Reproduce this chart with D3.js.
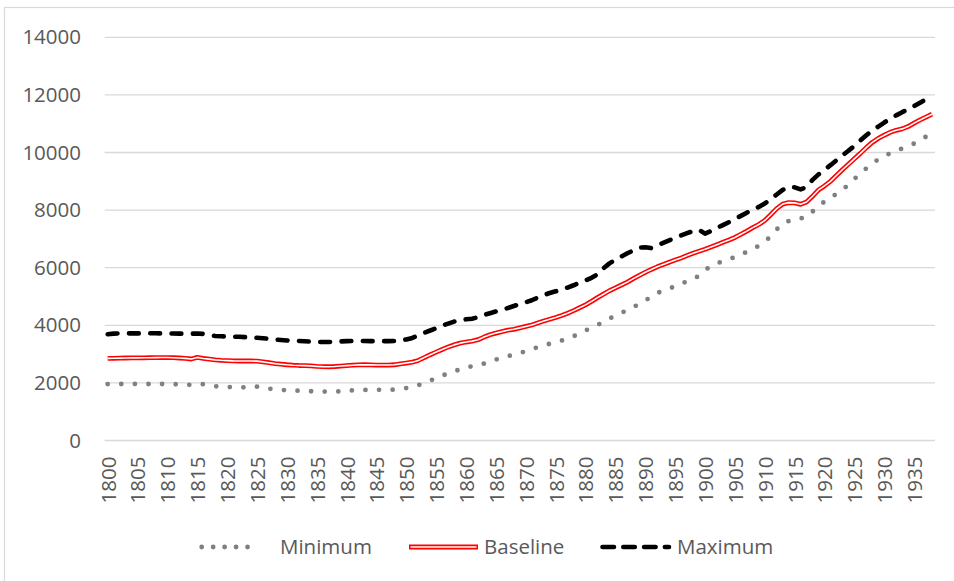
<!DOCTYPE html>
<html>
<head>
<meta charset="utf-8">
<script src="https://cdn.jsdelivr.net/npm/d3@7"></script>
<style>
  html, body { margin: 0; padding: 0; background: #fff; }
  svg { display: block; }
  text { font-family: "Open Sans", Lato, sans-serif; fill: #595959; }
</style>
</head>
<body>
<svg id="chart" width="954" height="581"></svg>
<script>
// Years 1800–1938, one value per year
const years = d3.range(1800, 1939);

const minimum = [
  1960, 1960, 1962, 1962, 1963, 1963, 1962, 1962, 1962, 1962,
  1960, 1955, 1950, 1940, 1930, 1960, 1955, 1920, 1885, 1870,
  1860, 1850, 1848, 1848, 1860, 1870, 1845, 1800, 1780, 1760,
  1745, 1735, 1730, 1720, 1710, 1705, 1700, 1695, 1700, 1708,
  1720, 1740, 1748, 1755, 1758, 1760, 1762, 1760, 1765, 1790,
  1820, 1860, 1920, 2000, 2080, 2170, 2250, 2330, 2400, 2470,
  2530, 2580, 2620, 2670, 2740, 2810, 2870, 2930, 2980, 3040,
  3100, 3170, 3240, 3300, 3360, 3420, 3470, 3540, 3620, 3710,
  3820, 3920, 4010, 4120, 4230, 4340, 4430, 4530, 4630, 4740,
  4860, 4990, 5120, 5200, 5270, 5360, 5450, 5520, 5600, 5720,
  5920, 6050, 6150, 6220, 6290, 6370, 6460, 6550, 6640, 6760,
  6890, 7100, 7330, 7530, 7620, 7670, 7710, 7760, 7950, 8120,
  8300, 8430, 8560, 8700, 8880, 9080, 9280, 9450, 9620, 9760,
  9880, 9970, 10060, 10140, 10220, 10310, 10430, 10550, 10660
];

const baseline = [
  2850, 2855, 2860, 2865, 2868, 2870, 2872, 2875, 2878, 2880,
  2880, 2875, 2865, 2850, 2830, 2885, 2850, 2825, 2800, 2785,
  2775, 2765, 2760, 2760, 2760, 2755, 2730, 2700, 2670, 2650,
  2630, 2615, 2605, 2600, 2590, 2575, 2565, 2560, 2570, 2585,
  2600, 2615, 2625, 2630, 2625, 2620, 2620, 2620, 2630, 2660,
  2690, 2720, 2780, 2880, 2980, 3070, 3160, 3250, 3320, 3380,
  3420, 3450, 3500, 3590, 3670, 3730, 3780, 3830, 3860, 3910,
  3960, 4010, 4080, 4150, 4210, 4270, 4340, 4420, 4510, 4610,
  4710, 4830, 4960, 5080, 5200, 5300, 5400, 5500, 5620, 5730,
  5840, 5940, 6030, 6110, 6190, 6270, 6340, 6420, 6500, 6570,
  6640, 6720, 6800, 6880, 6960, 7050, 7160, 7270, 7390, 7500,
  7640, 7840, 8050, 8210, 8260, 8250, 8200, 8280, 8480, 8700,
  8840, 9000, 9200, 9400, 9590, 9780, 9970, 10170, 10350, 10490,
  10600, 10700, 10770, 10820, 10900, 11020, 11130, 11230, 11330
];

const maximum = [
  3690, 3710, 3720, 3720, 3720, 3720, 3725, 3725, 3725, 3720,
  3720, 3715, 3710, 3710, 3710, 3715, 3700, 3660, 3630, 3620,
  3610, 3605, 3600, 3590, 3580, 3565, 3550, 3530, 3505, 3490,
  3475, 3465, 3455, 3445, 3435, 3425, 3420, 3420, 3430, 3440,
  3450, 3455, 3455, 3455, 3450, 3450, 3450, 3450, 3455, 3470,
  3510, 3560, 3650, 3740, 3820, 3900, 3990, 4060, 4130, 4180,
  4210, 4230, 4280, 4360, 4420, 4480, 4540, 4600, 4670, 4740,
  4800, 4870, 4960, 5050, 5120, 5180, 5240, 5310, 5390, 5480,
  5560, 5650, 5770, 5980, 6150, 6280, 6390, 6500, 6600, 6700,
  6710, 6680, 6770, 6860, 6950, 7040, 7120, 7200, 7270, 7320,
  7180, 7270, 7380, 7480, 7580, 7690, 7800, 7910, 8020, 8110,
  8230, 8380, 8540, 8700, 8810, 8790, 8720, 8800, 9050, 9240,
  9400, 9560, 9730, 9900, 10060, 10230, 10420, 10600, 10760, 10900,
  11040, 11170, 11290, 11400, 11500, 11610, 11730, 11850, 11970
];

const yTicks = [0, 2000, 4000, 6000, 8000, 10000, 12000, 14000];
const xTickYears = years.filter(y => (y - 1800) % 5 === 0);
const seriesNames = ["Minimum", "Baseline", "Maximum"];

const FONT = "'Open Sans', Lato, sans-serif";
const FONT_SIZE = 20.5;

const svg = d3.select("#chart");

// chart frame
svg.append("rect")
  .attr("x", 4.5).attr("y", 7.5)
  .attr("width", 970).attr("height", 600)
  .attr("fill", "#fff")
  .attr("stroke", "#d9d9d9").attr("stroke-width", 1.2);

const plot = { left: 104.7, right: 935, top: 37.3, bottom: 440.5 };

const x = d3.scalePoint()
  .domain(years)
  .range([plot.left, plot.right])
  .padding(0.5);

const y = d3.scaleLinear()
  .domain([0, 14000])
  .range([plot.bottom, plot.top]);

// gridlines
svg.append("g")
  .selectAll("line")
  .data(yTicks)
  .join("line")
  .attr("x1", plot.left).attr("x2", plot.right)
  .attr("y1", d => y(d)).attr("y2", d => y(d))
  .attr("stroke", "#d9d9d9").attr("stroke-width", 1.3);

// y axis labels
const yAxis = d3.axisLeft(y).tickValues(yTicks).tickSize(0).tickPadding(0).tickFormat(d3.format("d"));
const yG = svg.append("g").attr("transform", `translate(81,0)`).call(yAxis);
yG.select(".domain").remove();
yG.selectAll("text")
  .attr("font-size", FONT_SIZE)
  .attr("fill", "#595959")
  .attr("font-family", FONT);

// x axis labels (rotated)
const xAxis = d3.axisBottom(x).tickValues(xTickYears).tickSize(0).tickPadding(0);
const xG = svg.append("g").attr("transform", `translate(0,${plot.bottom})`).call(xAxis);
xG.select(".domain").remove();
xG.selectAll("text")
  .attr("font-size", FONT_SIZE)
  .attr("fill", "#595959")
  .attr("font-family", FONT)
  .attr("text-anchor", "end")
  .attr("transform", "rotate(-90)")
  .attr("x", -16)
  .attr("y", 0)
  .attr("dy", "0.36em");

const line = d3.line()
  .x((d, i) => x(years[i]))
  .y(d => y(d));

// Minimum: round dots
svg.append("path")
  .datum(minimum)
  .attr("d", line)
  .attr("fill", "none")
  .attr("stroke", "#808080")
  .attr("stroke-width", 4.8)
  .attr("stroke-linecap", "round")
  .attr("stroke-dasharray", "0 13.6");

// Baseline: red double line
svg.append("path")
  .datum(baseline)
  .attr("d", line)
  .attr("fill", "none")
  .attr("stroke", "#ff0000")
  .attr("stroke-width", 4.8)
  .attr("stroke-linejoin", "round");
svg.append("path")
  .datum(baseline)
  .attr("d", line)
  .attr("fill", "none")
  .attr("stroke", "#ffffff")
  .attr("stroke-width", 1.6)
  .attr("stroke-linejoin", "round");

// Maximum: black dashes
svg.append("path")
  .datum(maximum)
  .attr("d", line)
  .attr("fill", "none")
  .attr("stroke", "#000000")
  .attr("stroke-width", 4.6)
  .attr("stroke-linecap", "round")
  .attr("stroke-linejoin", "round")
  .attr("stroke-dasharray", "9.8 11.5");

// legend
const legY = 547;
const leg = svg.append("g");

leg.append("line")
  .attr("x1", 201.7).attr("x2", 259).attr("y1", legY).attr("y2", legY)
  .attr("stroke", "#808080").attr("stroke-width", 4.8)
  .attr("stroke-linecap", "round").attr("stroke-dasharray", "0 11.46");

leg.append("line")
  .attr("x1", 409).attr("x2", 478).attr("y1", legY).attr("y2", legY)
  .attr("stroke", "#ff0000").attr("stroke-width", 4.8);
leg.append("line")
  .attr("x1", 410.5).attr("x2", 476.5).attr("y1", legY).attr("y2", legY)
  .attr("stroke", "#ffffff").attr("stroke-width", 1.6);

leg.append("line")
  .attr("x1", 602.5).attr("x2", 669).attr("y1", legY).attr("y2", legY)
  .attr("stroke", "#000").attr("stroke-width", 4.6)
  .attr("stroke-linecap", "round").attr("stroke-dasharray", "11.5 9.3");

const legendText = [280, 484, 677];
leg.selectAll("text.lt")
  .data(seriesNames)
  .join("text")
  .attr("class", "lt")
  .attr("x", (d, i) => legendText[i])
  .attr("y", legY)
  .attr("dy", "0.36em")
  .attr("font-size", FONT_SIZE)
  .attr("font-family", FONT)
  .text(d => d);
</script>
</body>
</html>
